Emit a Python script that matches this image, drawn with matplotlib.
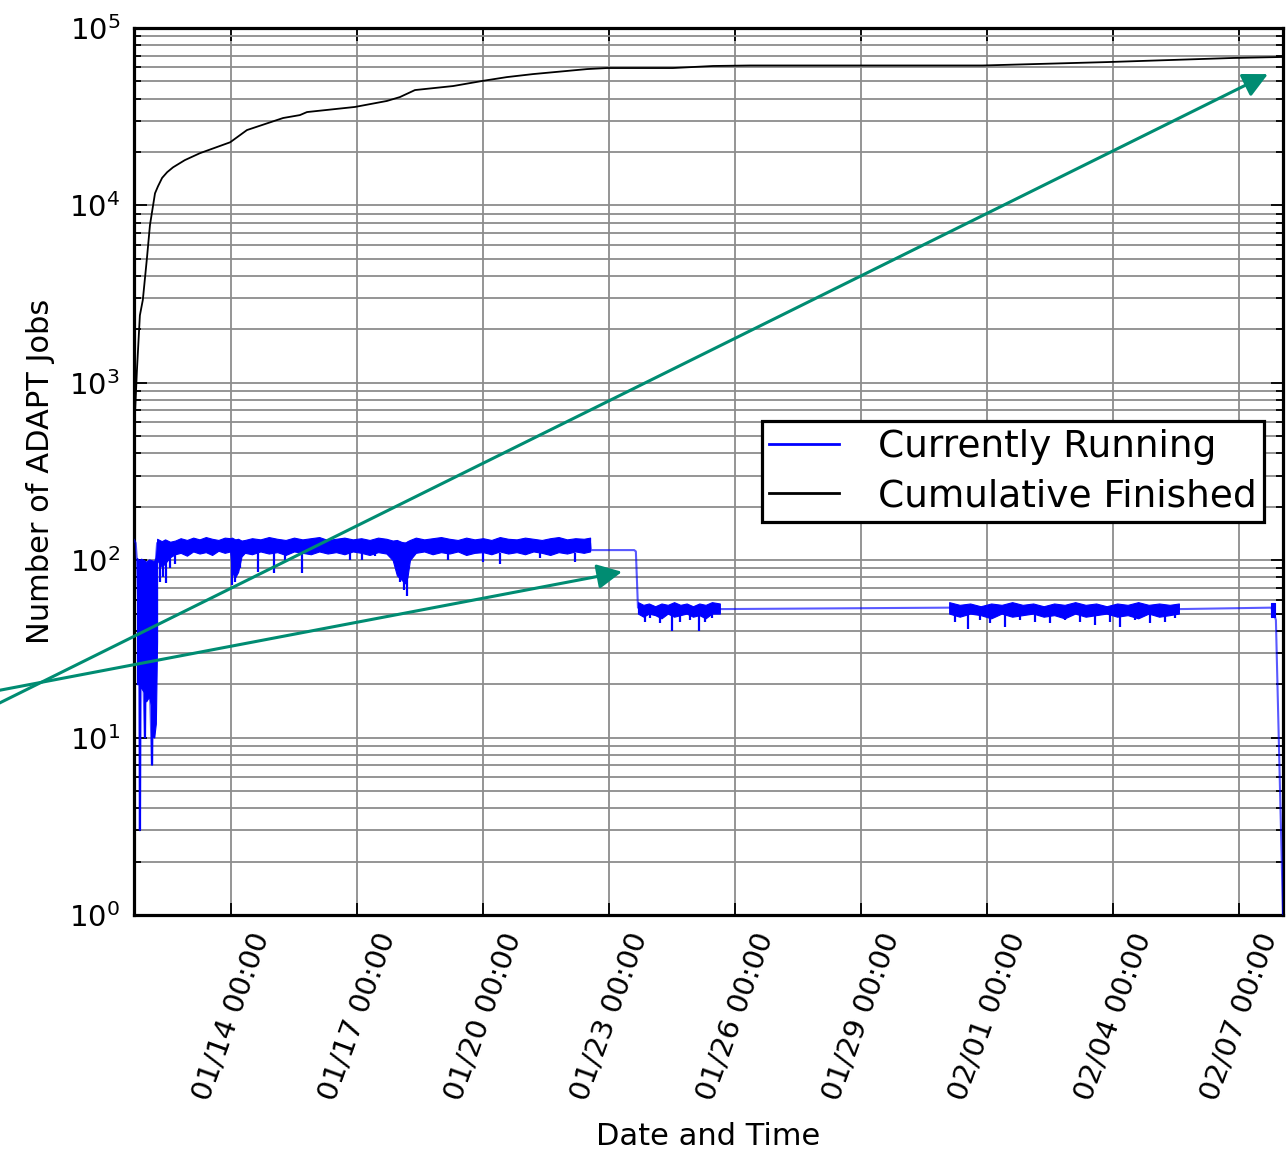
import numpy as np
import pandas as pd
import matplotlib
matplotlib.use('Agg')
import matplotlib.pyplot as plt
import matplotlib.dates as mdates

# times are in days relative to 01/14 00:00
base = pd.Timestamp('2016-01-14')

# Currently running jobs: main trace
run_days = [-2.31, -2.27, -2.24, -2.19, -2.17, -2.14, -2.05, -2.00, -1.88, -1.84, -1.79, -1.76,
            8.55, 8.57, 9.60, 9.64, 9.69, 11.64, 17.10, 22.57, 24.76, 24.81, 24.88, 25.05]
run_vals = [130, 125, 100, 40, 3, 60, 10, 70, 7, 40, 100, 125,
            125, 114, 114, 112, 54, 53, 54, 53, 54, 52, 46, 1.0]

# noisy regions (upper / lower envelope)
early_days = [-2.24, -2.19, -2.14, -2.07, -2.02, -1.95, -1.90, -1.83, -1.79, -1.76]
early_hi = [103, 100, 102, 100, 98, 101, 100, 99, 104, 125]
early_lo = [20, 20, 19, 18, 16, 17, 15, 10, 12, 35]

band1_days = [-1.76, -1.65, -1.57, -1.45, -1.33, -1.20, -1.05, -0.90, -0.75, -0.60, -0.45, -0.30,
              -0.15, -0.02, 0.02, 0.10, 0.17, 0.25, 0.33, 0.50, 0.70, 0.90, 1.10, 1.30, 1.50, 1.70,
              1.90, 2.10, 2.30, 2.50, 2.70, 2.90, 3.10, 3.30, 3.50, 3.70, 3.85, 3.95, 4.05, 4.14,
              4.20, 4.26, 4.40, 4.60, 4.80, 5.00, 5.20, 5.40, 5.60, 5.80, 6.00, 6.20, 6.40, 6.60,
              6.80, 7.00, 7.20, 7.40, 7.60, 7.80, 8.00, 8.20, 8.40, 8.55]
band1_hi = [132, 128, 131, 127, 129, 133, 130, 134, 131, 135, 132, 130, 134, 133, 134, 131,
            132, 129, 130, 133, 131, 135, 132, 130, 134, 131, 133, 135, 130, 132, 134, 131,
            133, 130, 134, 132, 129, 130, 127, 125, 128, 130, 134, 131, 133, 135, 132, 130,
            134, 131, 133, 130, 135, 132, 131, 134, 132, 130, 133, 135, 131, 133, 132, 134]
band1_lo = [100, 92, 96, 104, 108, 110, 106, 112, 109, 111, 107, 113, 110, 112, 85, 80,
            86, 105, 110, 108, 112, 109, 111, 107, 112, 110, 108, 112, 109, 111, 108, 112,
            110, 107, 111, 109, 100, 82, 78, 74, 80, 100, 110, 112, 108, 111, 109, 112,
            107, 110, 111, 108, 112, 109, 111, 108, 112, 110, 107, 111, 109, 112, 110, 112]

band2_days = [9.69, 9.82, 9.95, 10.10, 10.25, 10.40, 10.55, 10.70, 10.85, 11.00, 11.15, 11.30,
              11.45, 11.64]
band2_hi = [58, 56, 57, 55, 57, 56, 58, 56, 57, 55, 57, 56, 58, 57]
band2_lo = [50, 48, 50, 49, 47, 50, 48, 49, 50, 48, 49, 47, 50, 50]

band3_days = [17.10, 17.35, 17.60, 17.85, 18.10, 18.35, 18.60, 18.85, 19.10, 19.35, 19.60, 19.85,
              20.10, 20.35, 20.60, 20.85, 21.10, 21.35, 21.60, 21.85, 22.10, 22.35, 22.57]
band3_hi = [58, 56, 57, 55, 57, 56, 58, 56, 57, 55, 57, 56, 58, 56, 57, 55, 57, 56, 58, 56,
            57, 56, 57]
band3_lo = [50, 48, 50, 49, 47, 50, 48, 49, 50, 48, 49, 47, 50, 48, 49, 50, 48, 49, 47, 50,
            48, 49, 50]

blob_days = [24.76, 24.86]
blob_hi = [57, 57]
blob_lo = [48, 48]

# downward spikes (day, lowest value, band level)
spike_days = [-2.17, -2.05, -1.87, -1.84, -1.69, -1.62, -1.55, -1.45, -1.33, 0.02, 0.10, 0.21,
              0.64, 1.02, 1.29, 1.69, 2.83, 3.12, 3.43, 4.02, 4.12, 4.19, 5.17, 6.00, 6.40, 7.36, 8.19,
              9.86, 9.98, 10.21, 10.50, 10.69, 10.93, 11.14, 11.29, 11.45,
              17.24, 17.55, 17.83, 18.07, 18.43, 18.79, 19.14, 19.50, 19.86, 20.21, 20.57,
              20.93, 21.17, 21.52, 21.88, 22.24, 22.48]
spike_low = [3, 10, 7, 10, 75, 80, 74, 90, 95, 72, 75, 90,
             86, 85, 100, 85, 100, 100, 105, 75, 68, 63, 100, 98, 95, 103, 98,
             45, 47, 44, 40, 45, 46, 40, 45, 47,
             45, 41, 46, 44, 42, 46, 45, 44, 46, 45, 43,
             45, 42, 46, 44, 45, 47]
spike_top = [20, 20, 15, 15, 110, 110, 110, 110, 110, 110, 110, 110,
             110, 110, 110, 110, 110, 110, 110, 110, 110, 110, 110, 110, 110, 110, 110,
             51, 51, 51, 51, 51, 51, 51, 51, 51,
             51, 51, 51, 51, 51, 51, 51, 51, 51, 51, 51,
             51, 51, 51, 51, 51, 51]

# Cumulative finished jobs
cum_days = [-2.31, -2.24, -2.17, -2.10, -2.00, -1.93, -1.81, -1.74, -1.64, -1.52, -1.38, -1.10,
            -0.74, -0.02, 0.38, 1.24, 1.64, 1.81, 2.95, 3.71, 4.02, 4.38, 5.29, 5.98, 6.57,
            7.19, 8.48, 8.95, 10.52, 11.48, 12.36, 17.90, 20.88, 23.86, 25.05]
cum_vals = [500, 1180, 2400, 2930, 5100, 7750, 11700, 12800, 14300, 15400, 16400, 18000,
            19700, 22700, 26600, 31100, 32300, 33600, 35900, 38800, 40800, 44700, 47100, 50300, 52900,
            55000, 58700, 59500, 59500, 61100, 61500, 61500, 64300, 67800, 68700]

tick_times = pd.date_range('2016-01-14', periods=9, freq='3D')

# annotation arrows: (tail day, tail value, head day, head value)
arrows = [(-5.98, 13.8, 24.69, 55000),
          (-5.98, 17.6, 9.31, 86)]


def t(days):
    return base + pd.to_timedelta(np.asarray(days, dtype=float), unit='D')


fig = plt.figure(figsize=(12.86, 11.49), dpi=100)
ax = fig.add_axes([0.1042, 0.2037, 0.8935, 0.7719])

blue = '#0000ff'
ax.plot(t(run_days), run_vals, color=blue, lw=1.5, alpha=0.65, label='Currently Running', zorder=3)
for d, hi, lo in [(early_days, early_hi, early_lo), (band1_days, band1_hi, band1_lo),
                  (band2_days, band2_hi, band2_lo), (band3_days, band3_hi, band3_lo),
                  (blob_days, blob_hi, blob_lo)]:
    ax.fill_between(t(d), lo, hi, color=blue, lw=0.8, zorder=3)
ax.vlines(t(spike_days), spike_low, spike_top, color=blue, lw=1.6, zorder=3)

ax.plot(t(cum_days), cum_vals, color='black', lw=1.3, label='Cumulative Finished', zorder=3)

ax.set_yscale('log')
ax.set_ylim(1, 1e5)
ax.set_xlim(t([-2.31])[0], t([25.05])[0])

ax.set_xticks(tick_times)
ax.xaxis.set_major_formatter(mdates.DateFormatter('%m/%d %H:%M'))
plt.setp(ax.get_xticklabels(), rotation=70, ha='center')

ax.set_axisbelow(True)
ax.grid(True, which='major', axis='both', color='#8c8c8c', lw=1.3, ls='-')
ax.grid(True, which='minor', axis='y', color='#8c8c8c', lw=1.3, ls='-')

ax.tick_params(which='both', direction='in', top=True, right=True, labelsize=21, width=1.3)
ax.tick_params(which='major', length=9, pad=10)
ax.tick_params(which='minor', length=5)
for s in ax.spines.values():
    s.set_linewidth(2.3)

ax.set_xlabel('Date and Time', fontsize=22, labelpad=13)
ax.set_ylabel('Number of ADAPT Jobs', fontsize=22, labelpad=10)

leg = ax.legend(loc='center right', fontsize=27, fancybox=False, framealpha=1,
                edgecolor='black', borderaxespad=0.5, handlelength=1.85,
                handletextpad=1.05, labelspacing=0.35, borderpad=0.2)
leg.get_frame().set_linewidth(2.3)
for line in leg.get_lines():
    line.set_linewidth(2.0)
    line.set_alpha(1)

for x0, y0, x1, y1 in arrows:
    ax.annotate('', xy=(mdates.date2num(t([x1])[0]), y1),
                xytext=(mdates.date2num(t([x0])[0]), y0),
                arrowprops=dict(arrowstyle='-|>,head_length=0.5,head_width=0.25',
                                color='#008c72', lw=2.2, mutation_scale=30,
                                shrinkA=0, shrinkB=0),
                annotation_clip=False, zorder=5)

fig.savefig('out.png', dpi=100)
